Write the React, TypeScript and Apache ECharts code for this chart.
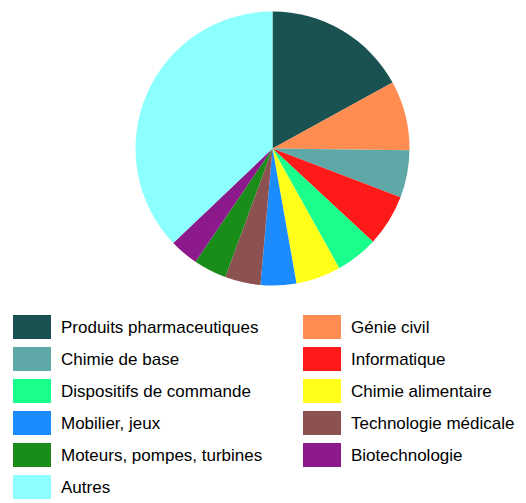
import React, { useEffect, useRef } from "react";
import * as echarts from "echarts";

const categories = [
  "Produits pharmaceutiques",
  "Génie civil",
  "Chimie de base",
  "Informatique",
  "Dispositifs de commande",
  "Chimie alimentaire",
  "Mobilier, jeux",
  "Technologie médicale",
  "Moteurs, pompes, turbines",
  "Biotechnologie",
  "Autres",
];
const values = [17.0, 8.2, 5.6, 6.1, 5.0, 5.3, 4.2, 4.2, 3.9, 3.4, 37.1];
const colors = [
  "#1a5252",
  "#ff8c50",
  "#5fa8a8",
  "#ff1a1a",
  "#1aff8c",
  "#ffff1a",
  "#1a8cff",
  "#8c5252",
  "#1a8c1a",
  "#8c1a8c",
  "#8cffff",
];
const leftColumn = [0, 2, 4, 6, 8, 10].map((i) => categories[i]);
const rightColumn = [1, 3, 5, 7, 9].map((i) => categories[i]);

export default function App() {
  const ref = useRef<HTMLDivElement>(null);
  useEffect(() => {
    document.body.style.margin = "0";
    const chart = echarts.init(ref.current!, null, { renderer: "svg" });
    const legendCommon = {
      orient: "vertical" as const,
      top: 315,
      height: 190,
      padding: 0,
      itemWidth: 38,
      itemHeight: 24,
      itemGap: 8,
      icon: "rect",
      textStyle: {
        fontFamily: "Liberation Sans, Arial, sans-serif",
        fontSize: 17,
        color: "#000",
        padding: [0, 0, 0, 5],
      },
    };
    chart.setOption({
      animation: false,
      color: colors,
      legend: [
        { ...legendCommon, left: 13, data: leftColumn },
        { ...legendCommon, left: 303, data: rightColumn },
      ],
      series: [
        {
          type: "pie",
          center: [272.5, 148.5],
          radius: 137,
          startAngle: 90,
          clockwise: true,
          label: { show: false },
          labelLine: { show: false },
          emphasis: { disabled: true },
          itemStyle: { borderWidth: 0 },
          data: categories.map((name, i) => ({ name, value: values[i] })),
        },
      ],
    });
    return () => chart.dispose();
  }, []);
  return <div ref={ref} style={{ width: 526, height: 503 }} />;
}
